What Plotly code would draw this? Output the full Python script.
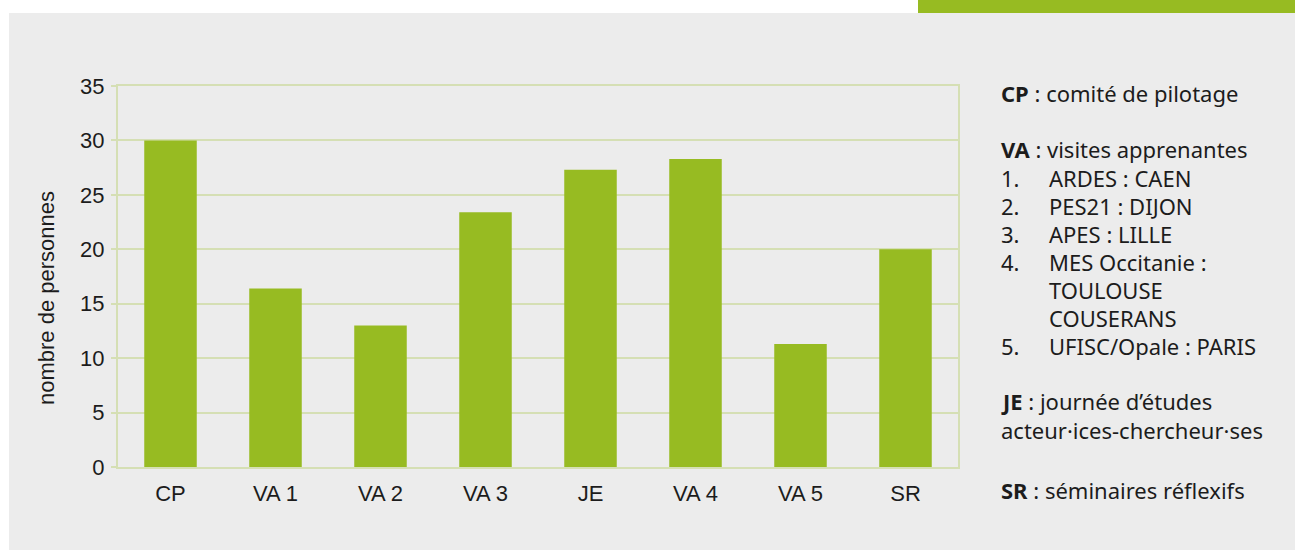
import plotly.graph_objects as go

categories = ["CP", "VA 1", "VA 2", "VA 3", "JE", "VA 4", "VA 5", "SR"]
values = [30, 16.4, 13, 23.4, 27.3, 28.3, 11.3, 20]
y_ticks = [0, 5, 10, 15, 20, 25, 30, 35]
y_title = "nombre de personnes"

legend_lines = [
    ("<b>CP</b> : comité de pilotage", 0),
    ("<b>VA</b> : visites apprenantes", 0),
    ("1.", 0), ("ARDES : CAEN", 1),
    ("2.", 0), ("PES21 : DIJON", 1),
    ("3.", 0), ("APES : LILLE", 1),
    ("4.", 0), ("MES Occitanie :", 1),
    ("TOULOUSE", 1),
    ("COUSERANS", 1),
    ("5.", 0), ("UFISC/Opale : PARIS", 1),
    ("<b>JE</b> : journée d’études", 0),
    ("acteur·ices-chercheur·ses", 0),
    ("<b>SR</b> : séminaires réflexifs", 0),
]
legend_rows = [93, 149, 177.5, 177.5, 205.5, 205.5, 233.5, 233.5, 261.5, 261.5, 289.5, 317.5, 345.5, 345.5, 401, 430, 490]

W, H = 1295, 550
L, R, T, B = 118, 958, 86, 467
GREEN = "#97bb22"
GRID = "#d5dfb4"
BG = "#ececec"
TXT = "#1c1c1c"


def px(x):
    return (x - L) / (R - L)


def py(y):
    return (B - y) / (B - T)


fig = go.Figure(go.Bar(x=categories, y=values, marker_color=GREEN, width=0.5,
                       marker_line_width=0, hoverinfo="x+y"))

shapes = [
    dict(type="rect", xref="paper", yref="paper", x0=px(9), x1=px(W + 2), y0=py(H + 2), y1=py(13),
         fillcolor=BG, line_width=0, layer="below"),
    dict(type="rect", xref="paper", yref="paper", x0=px(918), x1=px(W + 2), y0=py(13), y1=py(-2),
         fillcolor=GREEN, line_width=0, layer="below"),
]

annotations = [
    dict(text=y_title, xref="paper", yref="paper", x=px(46), y=py(298), textangle=-90,
         showarrow=False, xanchor="center", yanchor="middle",
         font=dict(family="Liberation Sans, Arial", size=22, color=TXT)),
]
for (txt, indent), row in zip(legend_lines, legend_rows):
    annotations.append(dict(text=txt, xref="paper", yref="paper",
                            x=px(1050 if indent else 1002) - 0.004, y=py(row),
                            showarrow=False, xanchor="left", yanchor="middle",
                            font=dict(family="Noto Sans", size=22, color=TXT)))

fig.update_layout(
    width=W, height=H,
    margin=dict(l=L, r=W - R, t=T, b=H - B, pad=0),
    paper_bgcolor="white",
    plot_bgcolor="rgba(0,0,0,0)",
    showlegend=False,
    bargap=0.5,
    shapes=shapes,
    annotations=annotations,
    xaxis=dict(showgrid=False, showline=True, mirror=True, linecolor=GRID, linewidth=2,
               ticks="", tickfont=dict(family="Liberation Sans, Arial", size=22, color=TXT),
               ticklabelstandoff=6, fixedrange=True),
    yaxis=dict(range=[0, 35], tickvals=y_ticks, showgrid=True, gridcolor=GRID, gridwidth=2,
               showline=True, mirror=True, linecolor=GRID, linewidth=2,
               ticks="outside", ticklen=5, tickcolor=GRID, tickwidth=2,
               zeroline=False, ticklabelstandoff=2,
               tickfont=dict(family="Liberation Sans, Arial", size=22, color=TXT),
               fixedrange=True),
)

fig.write_html("out.html", config={"displayModeBar": False},
               post_script="document.body.style.margin='0px';document.body.style.overflow='hidden';")
